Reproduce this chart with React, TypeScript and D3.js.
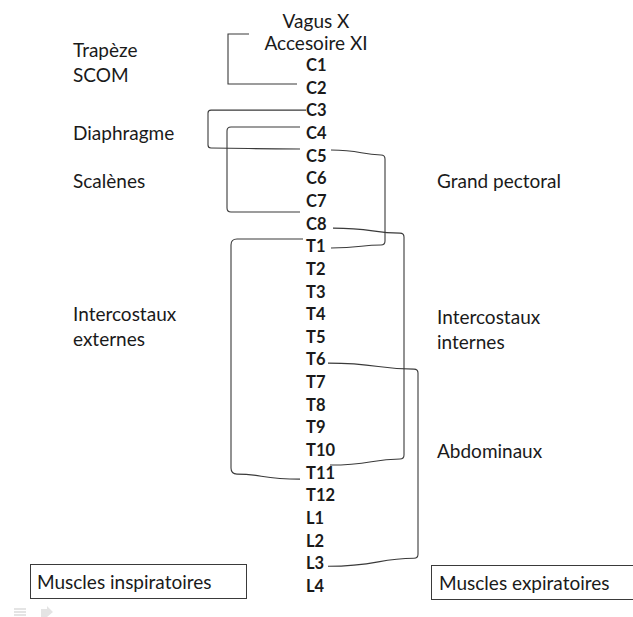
import * as d3 from 'd3';

// rows of the spinal column, C1 = row 0
const nerves = ['Vagus X', 'Accesoire XI'];
const vertebrae = [
  'C1', 'C2', 'C3', 'C4', 'C5', 'C6', 'C7', 'C8',
  'T1', 'T2', 'T3', 'T4', 'T5', 'T6', 'T7', 'T8', 'T9', 'T10', 'T11', 'T12',
  'L1', 'L2', 'L3', 'L4',
];

const leftMuscles = [['Trapèze', 'SCOM'], ['Diaphragme'], ['Scalènes'], ['Intercostaux', 'externes']];
const rightMuscles = [['Grand pectoral'], ['Intercostaux', 'internes'], ['Abdominaux']];
const groups = ['Muscles inspiratoires', 'Muscles expiratoires'];

// innervation span of each muscle, in rows (C1 = 0)
const leftFrom = [-1.37, 1.99, 2.74, 7.68];
const leftTo = [0.84, 3.71, 6.49, 18.28];
const rightFrom = [3.75, 7.2, 13.16];
const rightTo = [8.08, 17.66, 22.13];

const W = 633;
const H = 617;
const FONT = 'Lato, "Open Sans", sans-serif';
const INK = '#1a1a1a';
const LINE = '#3a3a3a';
const FS = 19;

const rowY = d3.scaleLinear().domain([0, vertebrae.length - 1]).range([65, 586]);

// bracket geometry (column x, end points, drift near the corners)
const leftLayout = [
  { x: 228, topEnd: 249, botEnd: 297, dTop: 0, dBot: 0, r: 0 },
  { x: 208, topEnd: 306, botEnd: 300, dTop: 0, dBot: -1, r: 3 },
  { x: 227, topEnd: 300, botEnd: 300, dTop: 0, dBot: 0, r: 4 },
  { x: 231, topEnd: 303, botEnd: 300, dTop: 0, dBot: -5, r: 6 },
];
const rightLayout = [
  { x: 385, topEnd: 331, botEnd: 331, dTop: 5, dBot: -3, r: 4 },
  { x: 404, topEnd: 333, botEnd: 330, dTop: 5, dBot: -6, r: 4 },
  { x: 418, topEnd: 328, botEnd: 328, dTop: 6, dBot: -8, r: 4 },
];

const leftLabelY = [57, 140, 188, 321];
const rightLabelY = [188, 324, 458];

const bracketPath = (
  xc: number, yTop: number, yBot: number,
  g: { topEnd: number; botEnd: number; dTop: number; dBot: number; r: number }
) => {
  const s = Math.sign(xc - g.topEnd);
  const cTop = yTop + g.dTop;
  const cBot = yBot + g.dBot;
  const p = d3.path();
  p.moveTo(g.topEnd, yTop);
  const mTop = g.topEnd + (xc - g.topEnd) * 0.55;
  p.bezierCurveTo(mTop, yTop, mTop, cTop, xc - s * g.r, cTop);
  p.quadraticCurveTo(xc, cTop, xc, cTop + g.r);
  p.lineTo(xc, cBot - g.r);
  p.quadraticCurveTo(xc, cBot, xc - s * g.r, cBot);
  const mBot = g.botEnd + (xc - g.botEnd) * 0.55;
  p.bezierCurveTo(mBot, cBot, mBot, yBot, g.botEnd, yBot);
  return p.toString();
};

export default function App() {
  return (
    <div style={{ position: 'absolute', left: 0, top: 0 }}>
      <svg width={W} height={H} style={{ display: 'block', background: '#fff' }} fontFamily={FONT}>
        {/* brackets */}
        {leftLayout.map((g, i) => (
          <path key={'l' + i} d={bracketPath(g.x, rowY(leftFrom[i]), rowY(leftTo[i]), g)}
            fill="none" stroke={LINE} strokeWidth={1.1} />
        ))}
        {rightLayout.map((g, i) => (
          <path key={'r' + i} d={bracketPath(g.x, rowY(rightFrom[i]), rowY(rightTo[i]), g)}
            fill="none" stroke={LINE} strokeWidth={1.1} />
        ))}

        {/* cranial nerves */}
        {nerves.map((n, i) => (
          <text key={n} x={316} y={rowY(i - 2) + 8} textAnchor="middle" fontSize={FS} fill={INK}>{n}</text>
        ))}

        {/* spinal segments */}
        {vertebrae.map((v, i) => (
          <text key={v} x={306} y={rowY(i) + 6} fontSize={16.5} fontWeight="bold" fill={INK}>{v}</text>
        ))}

        {/* muscles */}
        {leftMuscles.map((lines, i) => (
          <text key={'lm' + i} x={73} y={leftLabelY[i]} fontSize={FS} fill={INK}>
            {lines.map((t, j) => (
              <tspan key={t} x={73} dy={j === 0 ? 0 : 25}>{t}</tspan>
            ))}
          </text>
        ))}
        {rightMuscles.map((lines, i) => (
          <text key={'rm' + i} x={437} y={rightLabelY[i]} fontSize={FS} fill={INK}>
            {lines.map((t, j) => (
              <tspan key={t} x={437} dy={j === 0 ? 0 : 25}>{t}</tspan>
            ))}
          </text>
        ))}

        {/* group boxes */}
        <rect x={30.5} y={564.5} width={216} height={34} fill="#fff" stroke={LINE} strokeWidth={1} />
        <text x={37} y={589} fontSize={FS} fill={INK}>{groups[0]}</text>
        <rect x={431.5} y={565.5} width={210} height={34} fill="#fff" stroke={LINE} strokeWidth={1} />
        <text x={439} y={590} fontSize={FS} fill={INK}>{groups[1]}</text>

        {/* faint slide-show icons */}
        <g fill="#e4e4e4">
          <rect x={14} y={608} width={12} height={2} />
          <rect x={14} y={611} width={12} height={2} />
          <rect x={14} y={614} width={12} height={2} />
          <path d="M41,609 L47,609 L47,606 L53,612 L47,617 L41,617 Z" />
        </g>
      </svg>
    </div>
  );
}
